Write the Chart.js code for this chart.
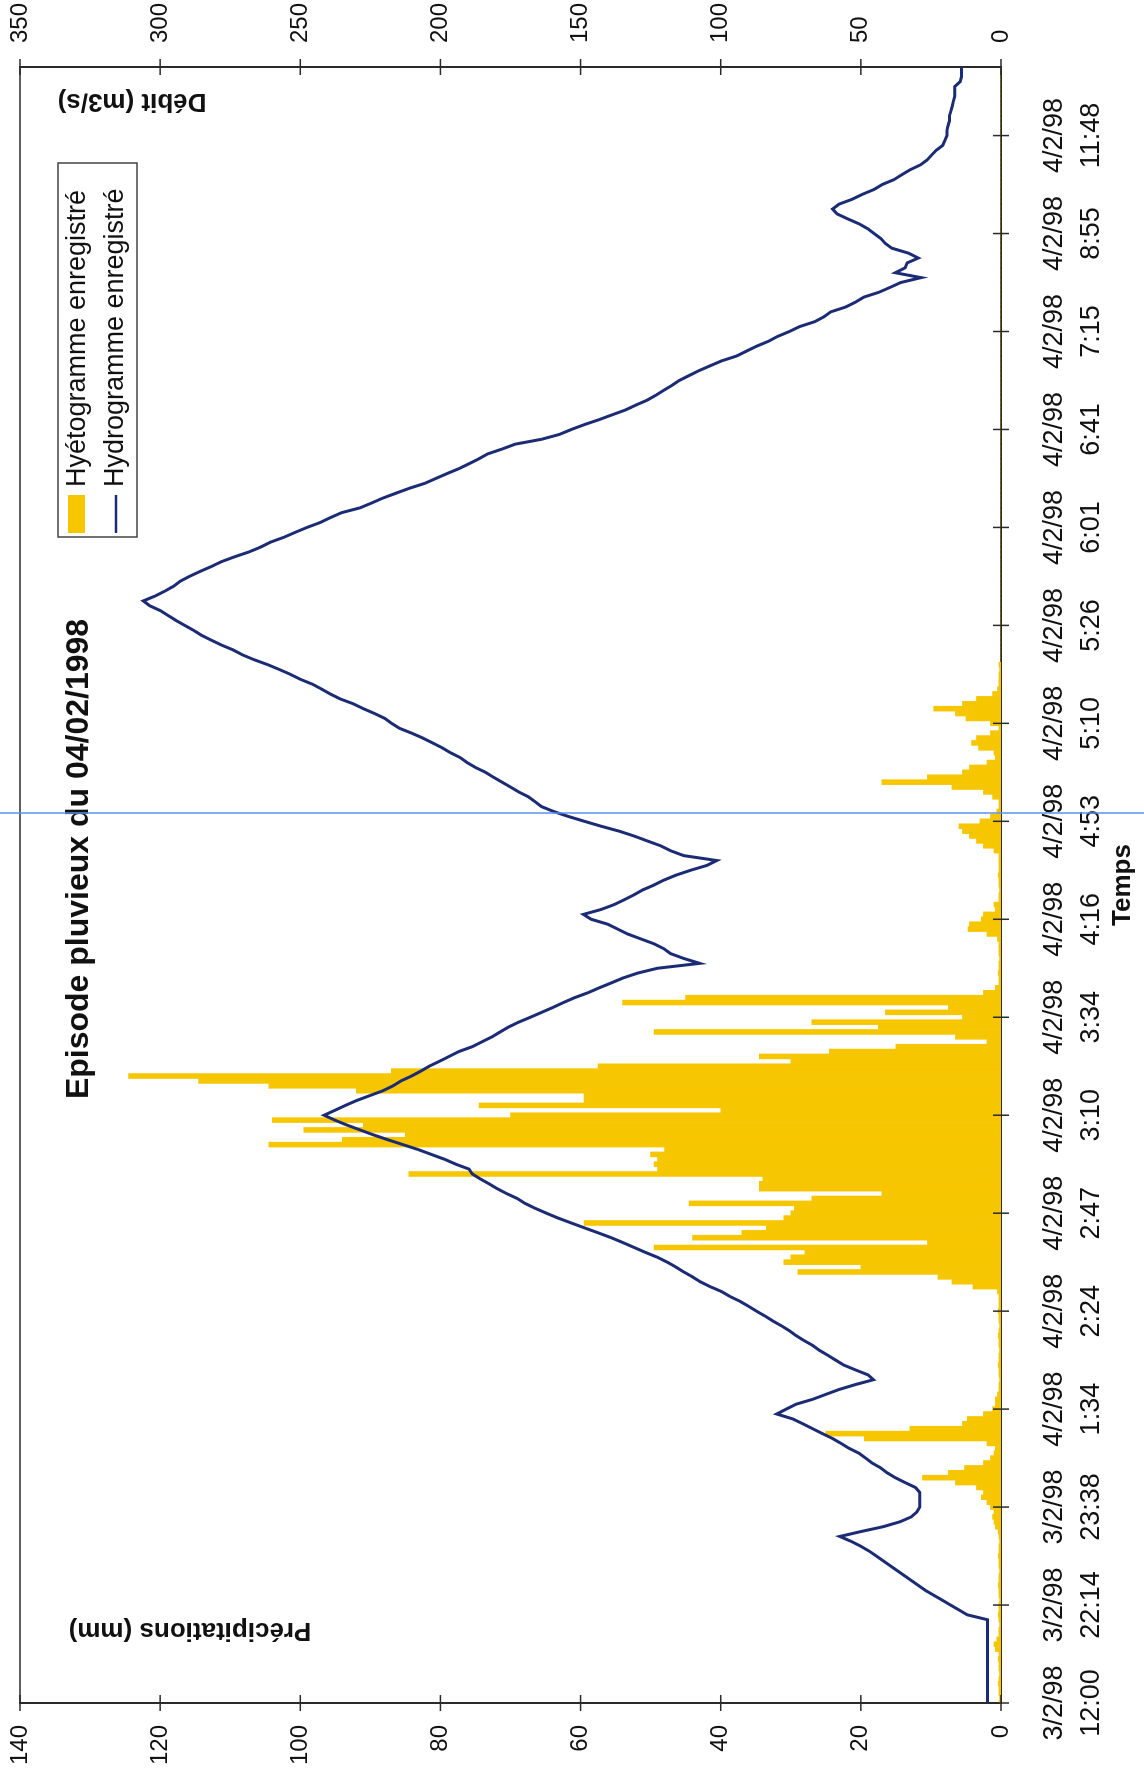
<!DOCTYPE html>
<html>
<head>
  <meta charset="UTF-8">
  <style>
    html, body { margin: 0; padding: 0; background: #fff; overflow: hidden; }
    /* the chart is drawn landscape, then turned a quarter left like the scanned page */
    #wrap {
      position: absolute; left: 0; top: 0;
      width: 1774px; height: 1144px;
      transform-origin: 0 0;
      transform: translateY(1774px) rotate(-90deg);
    }
    #chart { display: block; width: 1774px; height: 1144px; }
  </style>
</head>
<body>
  <div id="wrap"><canvas id="chart" width="1774" height="1144"></canvas></div>

  <script src="https://cdn.jsdelivr.net/npm/chart.js"></script>
  <script>
    const FONT = "'Liberation Sans', Arial, sans-serif"
    const YELLOW = '#f6c600'
    const NAVY = '#1b2b74'

    // one label every 20 samples on the time axis
    const tickEvery = 20
    const tickDates = ['3/2/98', '3/2/98', '3/2/98', '4/2/98', '4/2/98', '4/2/98', '4/2/98', '4/2/98', '4/2/98',
      '4/2/98', '4/2/98', '4/2/98', '4/2/98', '4/2/98', '4/2/98', '4/2/98', '4/2/98']
    const tickTimes = ['12:00', '22:14', '23:38', '1:34', '2:24', '2:47', '3:10', '3:34', '4:16',
      '4:53', '5:10', '5:26', '6:01', '6:41', '7:15', '8:55', '11:48']

    // Hydrogramme enregistré (m3/s), one value per sample
    const debit = [
      4.8, 4.8, 4.8, 4.8, 4.8, 4.8, 4.8, 4.8, 4.8, 4.8,
      4.8, 4.8, 4.8, 4.8, 4.8, 4.8, 4.8, 4.8, 12, 15,
      18, 21, 24, 27, 29.5, 32, 34.5, 37, 39.5, 42,
      44.5, 47, 50, 53.5, 57.5, 50, 42, 36, 32, 30,
      29, 29, 29, 29, 30.5, 34.2, 37.7, 40.6, 42.9, 46,
      48.3, 50.7, 54.2, 57.1, 60.1, 63.7, 67.2, 70.7, 74.3, 80,
      76.6, 73.1, 67.2, 62.5, 57.8, 52, 45.5, 47.5, 51.9, 56.1,
      59, 61.8, 64.8, 67.2, 70.3, 73.1, 75.5, 78.3, 81.4, 84.2,
      87.2, 90.1, 93.1, 96.7, 99.7, 103.8, 107.3, 110.1, 113.2, 116,
      119.1, 122.6, 126.9, 130.9, 134.9, 139.1, 143.8, 148.6, 153.3, 158,
      162.2, 166.2, 169.8, 172.6, 176.4, 179.7, 182.7, 185.8, 188.6, 189.8,
      194.5, 198.5, 203.3, 208, 213.4, 218.8, 224, 228.7, 233.4, 237.7,
      241.5, 237.7, 233.9, 229.9, 225.2, 220.5, 216.9, 214.1, 210.3, 207,
      204, 200.4, 196.9, 193.4, 188.6, 185.1, 181.6, 178.7, 175.7, 172.1,
      167.9, 163.9, 159.9, 156.1, 152.1, 147.4, 143.4, 139.1, 134.9, 129.7,
      122.6, 107.5, 113.2, 117.9, 120.3, 123.8, 128.5, 133.2, 136.8, 140.3,
      146.2, 149, 142.7, 138, 134.4, 130.9, 127.8, 123.8, 120.3, 116,
      110.8, 104.9, 101.4, 113.2, 117.9, 121.4, 126.2, 130.9, 136.3, 142.7,
      148.6, 154.4, 159.6, 163.9, 166.2, 168.6, 172.1, 175, 178, 181.1,
      183.9, 187.5, 190.5, 192.9, 196.4, 199.3, 202.8, 206.3, 210.3, 214.6,
      217.4, 219.8, 223.5, 227.5, 231.1, 235.8, 239.3, 242.4, 245.7, 250,
      253.5, 257.5, 261.7, 266.5, 270.7, 274, 278.2, 281.8, 285.3, 288.1,
      291.2, 294.3, 297.1, 299.9, 303.7, 306, 301.8, 298.3, 295.2, 292.9,
      289.6, 285.8, 281.8, 278.2, 273.5, 268.3, 264.1, 260.6, 255.8, 251.8,
      247.6, 242.9, 239.3, 235.3, 228.7, 224.5, 220.5, 215.8, 211, 205.6,
      201.6, 197.6, 193.4, 189.8, 186.3, 183.2, 178, 173.3, 163.9, 157.5,
      153.3, 148.6, 143.4, 138.7, 133.9, 130.2, 126.2, 123.1, 120.3, 117.4,
      114.8, 111.3, 107.8, 103.8, 99.7, 94.3, 90.8, 87.2, 83, 79.7,
      75.5, 71.9, 66.5, 63.2, 60.8, 55.4, 51.9, 49, 43.6, 39.6,
      35.8, 28.5, 37.7, 34.2, 33.5, 29.5, 33, 38.9, 41.3, 42.9,
      45.3, 47.6, 50.7, 54.7, 58.5, 60.1, 57.8, 53.1, 49.5, 45.3,
      42.4, 38.2, 35.4, 32.5, 28.8, 26.4, 24.8, 23.1, 20.8, 20,
      19.3, 19.3, 18.9, 18.4, 18.4, 17.9, 17.4, 17, 16.5, 16.5,
      16.5, 14.6, 14.1, 14.1, 14.1
    ]

    // Hyétogramme enregistré (mm), one value per sample
    const pluie = [
      0.3, 0.2, 0.3, 0.3, 0.4, 0.3, 0.2, 0.3, 0.3, 0.4,
      0.3, 0.8, 1, 0.6, 0.3, 0.3, 0.2, 0.3, 0.4, 0.3,
      0.3, 0.2, 0.3, 0.3, 0.4, 0.3, 0.3, 0.2, 0.3, 0.3,
      0.4, 0.3, 0.3, 0.2, 0.3, 0.4, 0.8, 1, 1.2, 1,
      1.5, 2, 2.8, 2.5, 3.5, 6.5, 11.2, 7.5, 5.2, 2.5,
      1.5, 1, 0.8, 2, 19.5, 25, 13, 5.5, 4.8, 2.5,
      1.2, 0.8, 0.8, 0.5, 0.3, 0.3, 0.2, 0.3, 0.3, 0.4,
      0.3, 0.3, 0.2, 0.3, 0.3, 0.4, 0.3, 0.2, 0.3, 0.3,
      0.4, 0.3, 0.3, 0.3, 0.5, 4, 7, 9, 29, 20,
      31, 30, 28, 49.5, 10.5, 44, 37, 33.5, 59.5, 31,
      30, 29.5, 44.5, 27, 17, 34.5, 34.5, 34, 84.5, 49,
      49.5, 49, 50, 48, 104.5, 94, 85, 99.5, 91, 104,
      70, 40, 74.5, 59.5, 59.5, 92, 104.5, 114.5, 124.5, 87,
      57.5, 30, 34.5, 24.5, 15, 2, 6.5, 49.5, 17.5, 27,
      5.5, 16.5, 7.5, 54, 45, 2.5, 0.8, 0.3, 0.3, 0.4,
      0.3, 0.3, 0.2, 0.3, 0.3, 0.3, 0.5, 2, 4.7, 4.5,
      2.8, 2.5, 0.8, 1, 0.3, 0.3, 0.2, 0.3, 0.3, 0.4,
      0.3, 0.3, 0.3, 0.3, 1, 2.5, 3.5, 4.5, 5.5, 6,
      3, 1.5, 0.6, 0.3, 0.3, 1.2, 2.5, 7, 17, 10.5,
      5.5, 4.5, 2, 0.8, 1, 3.2, 4.2, 3.5, 1.5, 0.3,
      1.5, 5, 6.5, 9.6, 5.5, 3.5, 1.2, 0.5, 0.3, 0.3,
      0.3, 0.2, 0.3, 0, 0, 0, 0, 0, 0, 0,
      0, 0, 0, 0, 0, 0, 0, 0, 0, 0,
      0, 0, 0, 0, 0, 0, 0, 0, 0, 0,
      0, 0, 0, 0, 0, 0, 0, 0, 0, 0,
      0, 0, 0, 0, 0, 0, 0, 0, 0, 0,
      0, 0, 0, 0, 0, 0, 0, 0, 0, 0,
      0, 0, 0, 0, 0, 0, 0, 0, 0, 0,
      0, 0, 0, 0, 0, 0, 0, 0, 0, 0,
      0, 0, 0, 0, 0, 0, 0, 0, 0, 0,
      0, 0, 0, 0, 0, 0, 0, 0, 0, 0,
      0, 0, 0, 0, 0, 0, 0, 0, 0, 0,
      0, 0, 0, 0, 0, 0, 0, 0, 0, 0,
      0, 0, 0, 0, 0
    ]

    const scanIndex = 181.7 // the thin blue scanner line across the page

    const labels = debit.map((_, i) => i)

    function strokeLine(ctx, x1, y1, x2, y2){
      ctx.beginPath()
      ctx.moveTo(x1, y1)
      ctx.lineTo(x2, y2)
      ctx.stroke()
    }

    function upText(ctx, text, x, y, font){
      ctx.save()
      ctx.translate(x, y)
      ctx.rotate(-Math.PI / 2)
      ctx.font = font
      ctx.textAlign = 'center'
      ctx.textBaseline = 'middle'
      ctx.fillText(text, 0, 0)
      ctx.restore()
    }

    // keep the plot box where the page has it: no extra room for tick labels
    function noPadding(s){
      s.paddingTop = 0
      s.paddingBottom = 0
      s.paddingLeft = 0
      s.paddingRight = 0
    }

    const decor = {
      id: 'decor',
      afterDraw(chart){
        const {ctx, chartArea: a, scales} = chart
        const sx = scales.x, sp = scales.yP, sd = scales.yD
        ctx.save()
        ctx.strokeStyle = '#2a2a2a'

        // plot frame (top edge)
        ctx.lineWidth = 1.5
        strokeLine(ctx, a.left, a.top, a.right, a.top)

        // tick marks crossing the axes
        sp.ticks.forEach(t => {
          const py = sp.getPixelForValue(t.value)
          strokeLine(ctx, a.left - 8, py, a.left + 8, py)
        })
        sd.ticks.forEach(t => {
          const py = sd.getPixelForValue(t.value)
          strokeLine(ctx, a.right - 8, py, a.right + 8, py)
        })
        for(let i = 0; i < labels.length; i += tickEvery){
          const px = sx.getPixelForValue(i)
          strokeLine(ctx, px, a.bottom - 8, px, a.bottom + 8)
        }

        // title and axis titles inside the plot
        ctx.fillStyle = '#111'
        ctx.font = `bold 32px ${FONT}`
        ctx.textAlign = 'center'
        ctx.textBaseline = 'middle'
        ctx.fillText('Episode pluvieux du 04/02/1998', 915, 79)
        upText(ctx, 'Précipitations (mm)', 144, 190, `bold 26px ${FONT}`)
        upText(ctx, 'Débit (m3/s)', 1673, 132, `bold 26px ${FONT}`)

        // legend box
        ctx.fillStyle = '#fff'
        ctx.fillRect(1237, 58, 374, 79)
        ctx.lineWidth = 1.5
        ctx.strokeStyle = '#444'
        ctx.strokeRect(1237, 58, 374, 79)
        ctx.fillStyle = YELLOW
        ctx.fillRect(1241, 68, 38, 17)
        ctx.strokeStyle = NAVY
        ctx.lineWidth = 2.5
        strokeLine(ctx, 1241, 116, 1279, 116)
        ctx.fillStyle = '#111'
        ctx.font = `27px ${FONT}`
        ctx.textAlign = 'left'
        ctx.fillText('Hyétogramme enregistré', 1287, 78)
        ctx.fillText('Hydrogramme enregistré', 1287, 116)

        // scanner line
        const lx = sx.getPixelForValue(scanIndex)
        ctx.strokeStyle = '#5b90f2'
        ctx.lineWidth = 1.5
        strokeLine(ctx, lx, 0, lx, chart.height)
        ctx.restore()
      }
    }

    new Chart(document.getElementById('chart'), {
      type: 'bar',
      data: {
        labels: labels,
        datasets: [
          {
            type: 'line',
            label: 'Hydrogramme enregistré',
            data: debit,
            yAxisID: 'yD',
            borderColor: NAVY,
            borderWidth: 3,
            pointRadius: 0,
            tension: 0,
            order: 1
          },
          {
            type: 'bar',
            label: 'Hyétogramme enregistré',
            data: pluie,
            yAxisID: 'yP',
            backgroundColor: YELLOW,
            borderWidth: 0,
            barPercentage: 1,
            categoryPercentage: 1,
            order: 2
          }
        ]
      },
      options: {
        responsive: false,
        animation: false,
        layout: { padding: { top: 20, left: 0, right: 0, bottom: 0 } },
        plugins: { legend: { display: false }, tooltip: { enabled: false } },
        scales: {
          x: {
            offset: false,
            grid: { display: false, drawTicks: false, offset: false },
            border: { display: true, color: '#2a2a2a', width: 2 },
            ticks: {
              autoSkip: false, maxRotation: 0, minRotation: 0, padding: 35,
              color: '#111', font: { family: FONT, size: 27, lineHeight: 1.37 },
              callback: (v, i) => i % tickEvery === 0 ? [tickDates[i / tickEvery], tickTimes[i / tickEvery]] : null
            },
            title: {
              display: true, text: 'Temps', color: '#111',
              font: { family: FONT, size: 26, weight: 'bold' },
              padding: { top: 0, bottom: 6 }
            },
            afterFit: s => { s.height = 143; noPadding(s) }
          },
          yP: {
            position: 'left', min: 0, max: 140,
            grid: { display: false, drawTicks: false },
            border: { display: true, color: '#2a2a2a', width: 2 },
            ticks: { stepSize: 20, padding: 22, color: '#111', font: { family: FONT, size: 24 } },
            afterFit: s => { s.width = 71; noPadding(s) }
          },
          yD: {
            position: 'right', min: 0, max: 350,
            grid: { display: false, drawTicks: false },
            border: { display: true, color: '#2a2a2a', width: 2 },
            ticks: { stepSize: 50, padding: 24, color: '#111', font: { family: FONT, size: 24 } },
            afterFit: s => { s.width = 67; noPadding(s) }
          }
        }
      },
      plugins: [decor]
    })
  </script>
</body>
</html>
